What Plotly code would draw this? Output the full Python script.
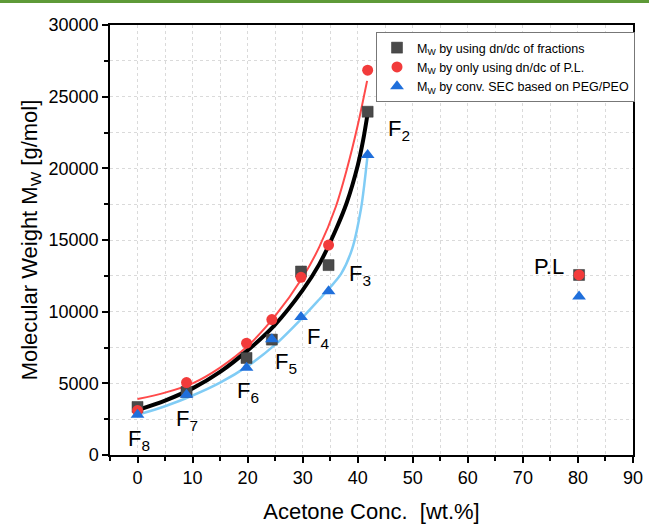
import plotly.graph_objects as go

# ---------------- data ----------------
conc = [0, 8.9, 19.8, 24.4, 29.7, 34.7, 41.8, 80.2]
mw_fractions = [3350, 4400, 6770, 8050, 12800, 13250, 23950, 12560]
mw_pl_dndc = [3100, 5050, 7800, 9450, 12400, 14650, 26850, 12560]
mw_sec = [2800, 4200, 6080, 8080, 9630, 11420, 20930, 11050]

# fitted curves
fit_frac_x = [0, 5, 10, 15, 20, 25, 30, 33, 36, 38, 40, 41, 41.85]
fit_frac_y = [3140, 3800, 4650, 5800, 7300, 9100, 11500, 13300, 15700, 17600, 20200, 22000, 23950]
fit_pl_x = [0, 5, 10, 15, 20, 25, 30, 33, 36, 38, 40, 41.7]
fit_pl_y = [3900, 4350, 5000, 6100, 7600, 9700, 12400, 14500, 17300, 19900, 23000, 26100]
fit_sec_x = [0, 5, 10, 15, 20, 25, 29.5, 33, 35, 37, 39, 40.6, 41.2, 41.8]
fit_sec_y = [2800, 3400, 4150, 5050, 6200, 7700, 9400, 10850, 11700, 12650, 14400, 17200, 18900, 20950]

labels = ["F<sub>8</sub>", "F<sub>7</sub>", "F<sub>6</sub>", "F<sub>5</sub>",
          "F<sub>4</sub>", "F<sub>3</sub>", "F<sub>2</sub>", "P.L"]
label_x = [0.2, 9, 20, 27, 32.8, 40.5, 47.5, 74.8]
label_y = [1050, 2440, 4400, 6420, 8160, 12560, 22670, 13120]

legend_names = ["M<sub>W</sub> by using dn/dc of fractions",
                "M<sub>W</sub> by only using dn/dc of P.L.",
                "M<sub>W</sub> by conv. SEC based on PEG/PEO"]

x_ticks = list(range(0, 91, 10))
y_ticks = list(range(0, 30001, 5000))

FONT = "Arial, Liberation Sans, sans-serif"
RED = "#F23B3B"
BLUE = "#1F6FDB"
GREY = "#4A4A4A"

fig = go.Figure()

# curves (under markers)
fig.add_trace(go.Scatter(x=fit_pl_x, y=fit_pl_y, mode="lines", showlegend=False,
                         line=dict(color="#FF4A4A", width=2, shape="spline", smoothing=0.8),
                         hoverinfo="skip"))
fig.add_trace(go.Scatter(x=fit_sec_x, y=fit_sec_y, mode="lines", showlegend=False,
                         line=dict(color="#80CCF5", width=2.5, shape="spline", smoothing=0.8),
                         hoverinfo="skip"))
fig.add_trace(go.Scatter(x=fit_frac_x, y=fit_frac_y, mode="lines", showlegend=False,
                         line=dict(color="black", width=4, shape="spline", smoothing=0.8),
                         hoverinfo="skip"))

# markers
fig.add_trace(go.Scatter(x=conc, y=mw_fractions, mode="markers", name=legend_names[0],
                         marker=dict(symbol="square", size=11, color=GREY,
                                     line=dict(color="#333333", width=0.5))))
fig.add_trace(go.Scatter(x=conc, y=mw_pl_dndc, mode="markers", name=legend_names[1],
                         marker=dict(symbol="circle", size=11, color=RED,
                                     line=dict(width=0))))
fig.add_trace(go.Scatter(x=conc, y=mw_sec, mode="markers", name=legend_names[2],
                         marker=dict(symbol="triangle-up", size=12, color=BLUE,
                                     line=dict(width=0))))

for t, xx, yy in zip(labels, label_x, label_y):
    fig.add_annotation(x=xx, y=yy, text=t, showarrow=False,
                       font=dict(family=FONT, size=22, color="black"),
                       xanchor="center", yanchor="middle")

# green strip at the top of the page
fig.add_shape(type="rect", xref="paper", yref="paper", x0=-0.25, x1=1.05,
              y0=1 + 22 / 430, y1=1 + 26 / 430, fillcolor="#5E9A38", line=dict(width=0),
              layer="above")

axis_common = dict(
    showline=True, linecolor="black", linewidth=1.5, mirror=True,
    ticks="outside", ticklen=6, tickwidth=1.5, tickcolor="black",
    showgrid=False, zeroline=False, automargin=False,
    tickfont=dict(family=FONT, size=18, color="black"),
)

fig.update_layout(
    width=649, height=524,
    margin=dict(l=110, r=16, t=25, b=69, autoexpand=False),
    paper_bgcolor="white", plot_bgcolor="white",
    font=dict(family=FONT, color="black"),
    xaxis=dict(
        range=[-5, 90], tickmode="array", tickvals=x_ticks,
        title=dict(text="Acetone Conc.\u00a0\u00a0[wt.%]", font=dict(family=FONT, size=22), standoff=16),
        minor=dict(tickmode="linear", tick0=0, dtick=5, ticks="outside", ticklen=4,
                   tickwidth=1.5, tickcolor="black", showgrid=True, gridcolor="#DADADA",
                   griddash="dot", gridwidth=1),
        **axis_common,
    ),
    yaxis=dict(
        range=[0, 30000], tickmode="array", tickvals=y_ticks, tickformat="d",
        title=dict(text="Molecular Weight M<sub>W</sub> [g/mol]", font=dict(family=FONT, size=22), standoff=5),
        minor=dict(tickmode="linear", tick0=0, dtick=2500, ticks="outside", ticklen=4,
                   tickwidth=1.5, tickcolor="black", showgrid=True, gridcolor="#DADADA",
                   griddash="dot", gridwidth=1),
        **axis_common,
    ),
    legend=dict(
        x=(376 - 110) / 523, y=(455 - 32) / 430, xanchor="left", yanchor="top",
        bgcolor="white", bordercolor="#777777", borderwidth=1,
        font=dict(family=FONT, size=12.5, color="black"),
        tracegroupgap=0, itemwidth=30,
    ),
)

fig.write_html(
    "out.html",
    config={"displayModeBar": False},
    post_script="document.body.style.margin='0';document.body.style.overflow='hidden';",
)
